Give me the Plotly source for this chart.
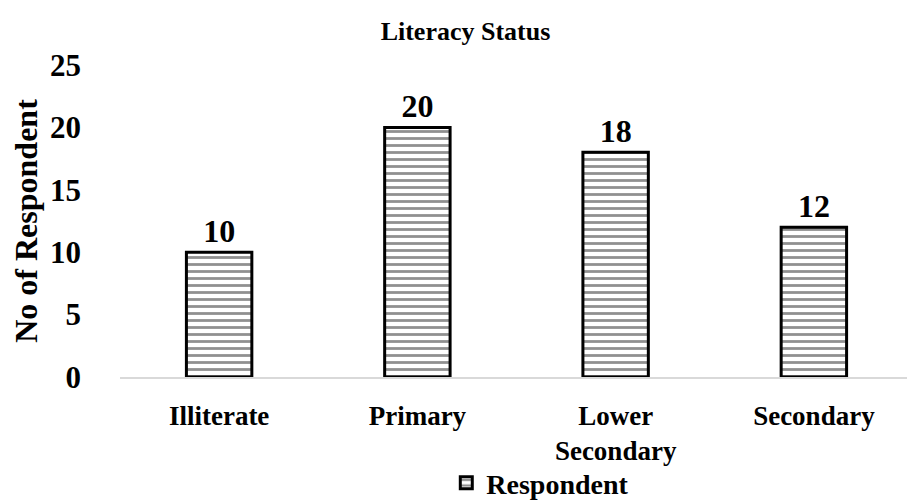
import plotly.graph_objects as go

# literacy status data
categories = ['Illiterate', 'Primary', 'Lower<br>Secondary', 'Secondary']
respondents = [10, 20, 18, 12]
y_ticks = [0, 5, 10, 15, 20, 25]

font_family = 'Liberation Serif'

fig = go.Figure()
fig.add_trace(go.Bar(
  x=categories,
  y=respondents,
  name='<b>Respondent</b>',
  width=0.33,
  texttemplate='<b>%{y}</b>',
  textposition='outside',
  textfont=dict(family=font_family, size=32, color='black'),
  cliponaxis=False,
  marker=dict(
    color='white',
    line=dict(color='black', width=3),
    pattern=dict(shape='-', fgcolor='#222222', bgcolor='white', size=7, solidity=0.4),
  ),
))

fig.update_layout(
  width=915, height=500,
  margin=dict(l=112, r=10, t=57, b=131, pad=0),
  paper_bgcolor='white',
  plot_bgcolor='white',
  font=dict(family=font_family, size=30, color='black'),
  title=dict(text='<b>Literacy Status</b>', x=0.5, xanchor='center', y=0.955, yanchor='middle',
             font=dict(family=font_family, size=26, color='black')),
  showlegend=True,
  legend=dict(orientation='h', x=0.53, xanchor='center',
              yref='container', y=-0.05, yanchor='bottom',
              bgcolor='rgba(0,0,0,0)',
              font=dict(family=font_family, size=28, color='black'),
              itemwidth=30),
  bargap=0.67,
)

# bold tick labels
fig.update_xaxes(
  automargin=False,
  showline=True, linecolor='#d9d9d9', linewidth=1.5,
  showgrid=False, ticks='',
  tickvals=categories,
  ticktext=['<b>' + c + '</b>' for c in categories],
  tickfont=dict(family=font_family, size=27, color='black'),
  ticklabelstandoff=14,
)
fig.update_yaxes(
  automargin=False,
  range=[0, 25], tickvals=y_ticks,
  ticktext=['<b>' + str(t) + '</b>' for t in y_ticks],
  showgrid=False, zeroline=False, showline=False,
  tickfont=dict(family=font_family, size=31, color='black'),
  ticklabelstandoff=38,
  title=dict(text='<b>No of Respondent</b>', font=dict(family=font_family, size=32, color='black'), standoff=6),
)

fig.write_html('out.html')
